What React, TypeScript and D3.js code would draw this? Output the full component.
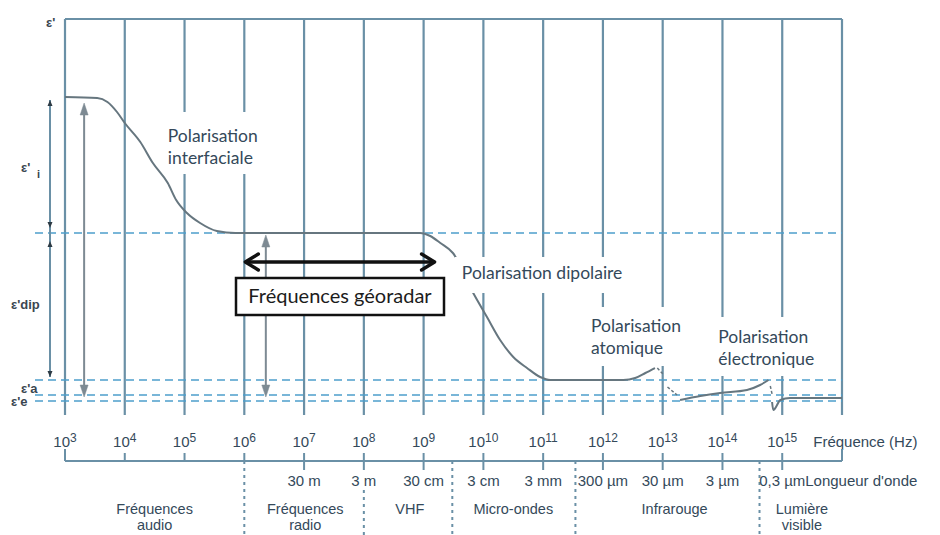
import React from 'react'
import * as d3 from 'd3'

// frequency decades (log10 Hz) shown on the axis
const decades = [3, 4, 5, 6, 7, 8, 9, 10, 11, 12, 13, 14, 15]
const gridDecades = [3, 4, 5, 6, 7, 8, 9, 10, 11, 12, 13, 14, 15, 16]
const wavelengthDecades = [7, 8, 9, 10, 11, 12, 13, 14, 15]
const wavelengthLabels = ['30 m', '3 m', '30 cm', '3 cm', '3 mm', '300 µm', '30 µm', '3 µm', '0,3 µm']
const bandSeparators = [6, 8, 9.48, 11.54, 14.62]
const bandCenters = [4.5, 7.02, 8.77, 10.5, 13.2, 15.33]
const bandNames = [
  ['Fréquences', 'audio'],
  ['Fréquences', 'radio'],
  ['VHF'],
  ['Micro-ondes'],
  ['Infrarouge'],
  ['Lumière', 'visible'],
]

// permittivity levels (arbitrary units)
const dashedLevels = [46, 9.25, 5.5, 4]

// ε' curve: [log10 f, ε']
const mainCurve: [number, number][] = [
  [3.0, 80], [3.54, 79.75], [3.71, 78.75], [3.87, 76.25], [4.0, 73.5], [4.26, 68.75],
  [4.47, 63.5], [4.72, 58.5], [4.86, 54.25], [5.04, 51], [5.26, 48.5], [5.54, 46.5],
  [5.85, 46], [8.94, 46], [9.11, 45.25], [9.28, 43.5], [9.49, 41], [9.83, 31],
  [10.06, 25], [10.28, 19.25], [10.5, 15], [10.73, 12.25], [10.95, 10], [11.12, 9.25],
  [12.34, 9.25], [12.54, 9.75], [12.71, 11], [12.87, 12.25],
]
const electronicCurve: [number, number][] = [
  [13.29, 4.25], [13.63, 5.25], [13.96, 6], [14.41, 6.75], [14.63, 8], [14.77, 9.25],
]
const tailCurve: [number, number][] = [
  [14.83, 3.75], [14.85, 1.75], [14.97, 4.25], [15.13, 4.75], [16.0, 4.75],
]
const dashedBits: [number, number][][] = [
  [[12.91, 12.25], [13.02, 10.5]],
  [[13.08, 7.5], [13.24, 5.5]],
  [[14.8, 7.75], [14.83, 5.75]],
]

// double arrows [log f, top ε', bottom ε']
const grayArrows: [number, number, number][] = [
  [3.32, 78.5, 5],
  [6.36, 45.5, 5],
]
const dimensionMarks = [79.25, 47.25, 44, 10]
const georadarRange = [6.0, 9.2]
const georadarLevel = 38.75

const W = 940
const H = 535
const top = 19
const bottom = 415
const axisY = 461

const gridColor = '#6a90a6'
const dashColor = '#4d9fcc'
const curveColor = '#66767f'
const textColor = '#34495a'

const x = d3.scaleLinear().domain([3, 16]).range([65, 842])
const y = d3.scaleLinear().domain([0, 100]).range([417, 17])

const line = d3.line<[number, number]>()
  .x(d => x(d[0]))
  .y(d => y(d[1]))
  .curve(d3.curveMonotoneX)

const polarLabels = [
  { f: 4.72, e: 68.75, lines: ['Polarisation', 'interfaciale'], box: [-1, -30, 98, 62] },
  { f: 9.64, e: 34.5, lines: ['Polarisation dipolaire'], box: [-7, -22, 160, 36] },
  { f: 11.8, e: 21.25, lines: ['Polarisation', 'atomique'], box: [-6, -25, 98, 59] },
  { f: 13.93, e: 18.5, lines: ['Polarisation', 'électronique'], box: [-5, -26, 105, 59] },
]

const tri = (cx: number, cy: number, dir: number, w: number, h: number) =>
  `M${cx},${cy} L${cx - w},${cy - dir * h} L${cx + w},${cy - dir * h} Z`

const App: React.FC = () => {
  const labelFont = 'Lato, "Open Sans", sans-serif'
  const axisFont = '"Liberation Sans", Arial, sans-serif'
  return (
    <svg width={W} height={H} style={{ position: 'absolute', left: 0, top: 0, background: '#fff' }}>
      {/* frame and vertical grid */}
      <line x1={x(3)} x2={x(16)} y1={top} y2={top} stroke={gridColor} strokeWidth={2.2} />
      {gridDecades.map(d => (
        <line key={'g' + d} x1={x(d)} x2={x(d)} y1={top} y2={bottom} stroke={gridColor} strokeWidth={2.2} />
      ))}

      {/* dashed permittivity levels */}
      {dashedLevels.map(l => (
        <line key={'l' + l} x1={35} x2={x(16)} y1={y(l)} y2={y(l)} stroke={dashColor}
          strokeWidth={1.6} strokeDasharray="8 5" />
      ))}

      {/* polarisation label backgrounds (hide grid behind text) */}
      {polarLabels.map((p, i) => (
        <rect key={'pb' + i} x={x(p.f) + p.box[0]} y={y(p.e) + p.box[1]} width={p.box[2]} height={p.box[3]} fill="#fff" />
      ))}

      {/* curve */}
      {[mainCurve, electronicCurve, tailCurve].map((c, i) => (
        <path key={'c' + i} d={line(c) ?? ''} fill="none" stroke={curveColor} strokeWidth={2} />
      ))}
      {dashedBits.map((c, i) => (
        <path key={'db' + i} d={line(c) ?? ''} fill="none" stroke={curveColor} strokeWidth={1.5}
          strokeDasharray="3 2" />
      ))}

      {/* dipolar label sits over the curve */}
      <rect x={x(polarLabels[1].f) + polarLabels[1].box[0]} y={y(polarLabels[1].e) + polarLabels[1].box[1]}
        width={polarLabels[1].box[2]} height={polarLabels[1].box[3]} fill="#fff" />

      {/* polarisation labels */}
      {polarLabels.map((p, i) => (
        <g key={'p' + i} transform={`translate(${x(p.f)},${y(p.e)})`}>
          {p.lines.map((t, j) => (
            <text key={j} x={0} y={j * 22} fontFamily={labelFont} fontSize={17.5} fill={textColor}>{t}</text>
          ))}
        </g>
      ))}

      {/* gray double arrows */}
      {grayArrows.map((a, i) => (
        <g key={'a' + i} fill="#7d8a93" stroke="#7d8a93">
          <line x1={x(a[0])} x2={x(a[0])} y1={y(a[1]) + 8} y2={y(a[2]) - 8} strokeWidth={2} />
          <path d={tri(x(a[0]), y(a[1]), -1, 4, 12)} strokeWidth={0.5} />
          <path d={tri(x(a[0]), y(a[2]), 1, 4, 12)} strokeWidth={0.5} />
        </g>
      ))}

      {/* left dimension line */}
      <line x1={50} x2={50} y1={y(dimensionMarks[0])} y2={y(dimensionMarks[3])} stroke={gridColor} strokeWidth={2} />
      <g fill="#2d3a44">
        <path d={tri(50, y(dimensionMarks[0]), -1, 2.5, 6)} />
        <path d={tri(50, y(dimensionMarks[1]), 1, 2.5, 6)} />
        <path d={tri(50, y(dimensionMarks[2]), -1, 2.5, 6)} />
        <path d={tri(50, y(dimensionMarks[3]), 1, 2.5, 6)} />
      </g>
      <g fontFamily={axisFont} fontWeight="bold" fill="#3a4650" fontSize={13}>
        <text x={46} y={27}>ε'</text>
        <text x={21} y={172}>ε'</text>
        <text x={37} y={178} fontSize={11}>i</text>
        <text x={11} y={309}>ε'dip</text>
        <text x={21} y={393}>ε'a</text>
        <text x={11} y={406}>ε'e</text>
      </g>

      {/* georadar arrow and box */}
      <g stroke="#111" strokeWidth={3.4} fill="none" strokeLinecap="round" strokeLinejoin="round">
        <line x1={x(georadarRange[0]) + 2} x2={x(georadarRange[1]) - 2} y1={y(georadarLevel)} y2={y(georadarLevel)} />
        <path d={`M${x(georadarRange[0]) + 14},${y(georadarLevel) - 8} L${x(georadarRange[0]) + 1},${y(georadarLevel)} L${x(georadarRange[0]) + 14},${y(georadarLevel) + 8}`} />
        <path d={`M${x(georadarRange[1]) - 14},${y(georadarLevel) - 8} L${x(georadarRange[1]) - 1},${y(georadarLevel)} L${x(georadarRange[1]) - 14},${y(georadarLevel) + 8}`} />
      </g>
      <rect x={236} y={278} width={208} height={37} fill="#fff" stroke="#111" strokeWidth={2.5} />
      <text x={340} y={303} textAnchor="middle" fontFamily={labelFont} fontSize={20} fill="#1c1c1c">Fréquences géoradar</text>

      {/* frequency axis */}
      <g fontFamily={axisFont} fontSize={15} fill={textColor}>
        {decades.map(d => (
          <text key={'d' + d} x={x(d)} y={447} textAnchor="middle">
            10<tspan dy={-5} fontSize={12}>{d}</tspan>
          </text>
        ))}
        <text x={x(15) + 31} y={447}>Fréquence (Hz)</text>
      </g>
      <g stroke={gridColor} strokeWidth={2}>
        <line x1={x(3)} x2={x(16)} y1={axisY} y2={axisY} />
        <line x1={x(3)} x2={x(3)} y1={449} y2={axisY} />
        <line x1={x(16)} x2={x(16)} y1={449} y2={axisY} />
        {[4, 5, 6].map(d => (
          <line key={'t' + d} x1={x(d)} x2={x(d)} y1={453} y2={axisY} />
        ))}
        {wavelengthDecades.map(d => (
          <line key={'w' + d} x1={x(d)} x2={x(d)} y1={453} y2={470} />
        ))}
      </g>
      {bandSeparators.map((s, i) => (
        <line key={'s' + i} x1={x(s)} x2={x(s)} y1={i === 1 ? 490 : axisY} y2={H}
          stroke={gridColor} strokeWidth={2} strokeDasharray="3 4" />
      ))}
      <g fontFamily={axisFont} fontSize={15} fill={textColor}>
        {wavelengthDecades.map((d, i) => (
          <text key={'wl' + d} x={x(d)} y={486} textAnchor="middle">{wavelengthLabels[i]}</text>
        ))}
        <text x={x(15) + 23} y={486}>Longueur d'onde</text>
      </g>
      <g fontFamily={axisFont} fontSize={14.5} fill={textColor}>
        {bandNames.map((b, i) => b.map((t, j) => (
          <text key={'b' + i + j} x={x(bandCenters[i])} y={514 + j * 16} textAnchor="middle">{t}</text>
        )))}
      </g>
    </svg>
  )
}

export default App
